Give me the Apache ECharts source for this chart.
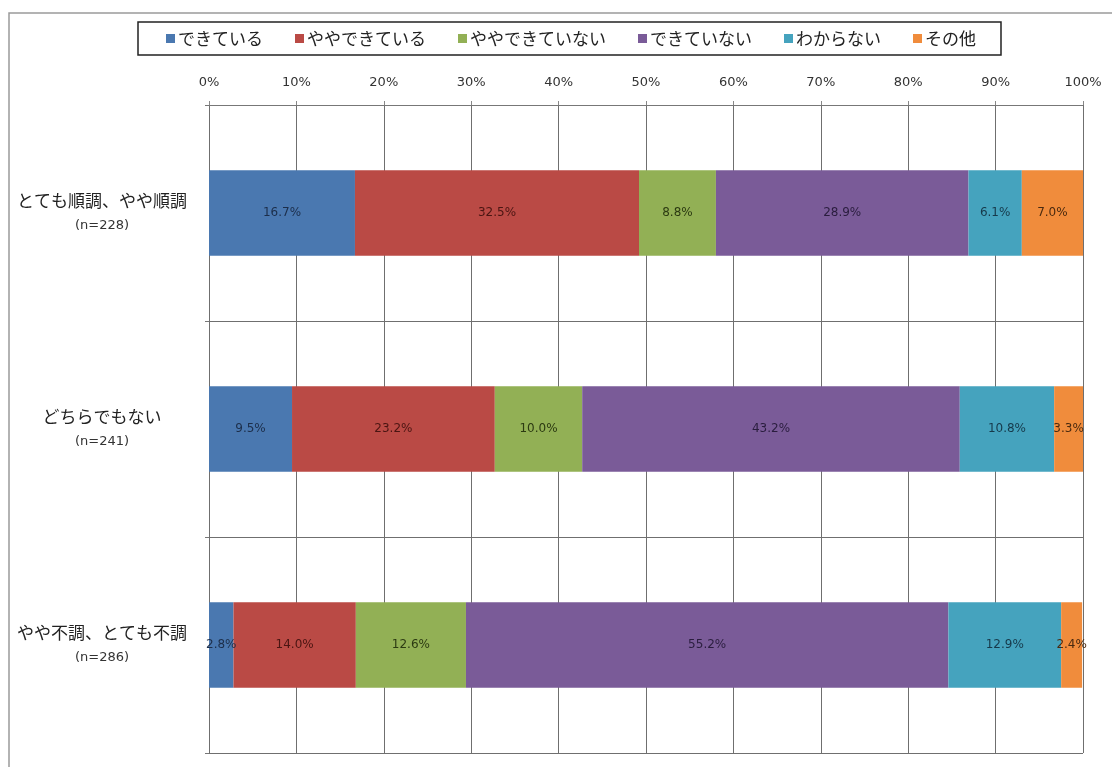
<!DOCTYPE html>
<html>
<head>
<meta charset="utf-8">
<script src="https://cdn.jsdelivr.net/npm/echarts@6/dist/echarts.min.js"></script>
<style>
  html, body { margin: 0; padding: 0; background: #fff; }
  #chart { width: 1112px; height: 767px; }
</style>
</head>
<body>
<div id="chart"></div>
<script>
// Survey groups (top to bottom) and their sample sizes
const categories = ['とても順調、やや順調', 'どちらでもない', 'やや不調、とても不調'];
const sampleSizes = [228, 241, 286];

// Share of answers per group, in percent
const seriesNames = ['できている', 'ややできている', 'ややできていない', 'できていない', 'わからない', 'その他'];
const dekiteiru       = [16.7, 9.5, 2.8];
const yayaDekiteiru   = [32.5, 23.2, 14.0];
const yayaDekiteinai  = [8.8, 10.0, 12.6];
const dekiteinai      = [28.9, 43.2, 55.2];
const wakaranai       = [6.1, 10.8, 12.9];
const sonota          = [7.0, 3.3, 2.4];

const axisTicks = [0, 10, 20, 30, 40, 50, 60, 70, 80, 90, 100];

const seriesValues = [dekiteiru, yayaDekiteiru, yayaDekiteinai, dekiteinai, wakaranai, sonota];
const barColors   = ['#4A78B0', '#BA4A45', '#92B055', '#7A5B98', '#45A3BE', '#F08C3C'];
const labelColors = ['#1c2e4a', '#4a1512', '#2c3a12', '#2a1d3e', '#16394a', '#4a2a10'];

const chart = echarts.init(document.getElementById('chart'));

chart.setOption({
  backgroundColor: '#fff',
  animation: false,
  graphic: [{
    type: 'rect',
    shape: { x: 9, y: 13, width: 1200, height: 800 },
    style: { fill: 'none', stroke: '#9a9a9a', lineWidth: 1.5 },
    silent: true
  }],
  legend: {
    left: 138,
    top: 22,
    padding: [8, 25, 8, 28],
    itemGap: 32,
    itemWidth: 9,
    itemHeight: 9,
    borderColor: '#222',
    borderWidth: 1.5,
    icon: 'rect',
    textStyle: {
      fontFamily: 'Noto Sans CJK JP',
      fontSize: 17,
      color: '#222',
      padding: [0, 0, 0, -2]
    },
    data: seriesNames
  },
  grid: {
    left: 209,
    right: 29,
    top: 105,
    bottom: 14,
    containLabel: false
  },
  xAxis: {
    type: 'value',
    position: 'top',
    min: 0,
    max: 100,
    interval: 10,
    axisLine: { show: true, lineStyle: { color: '#777', width: 1 } },
    axisTick: { show: true, length: 4, lineStyle: { color: '#888' } },
    splitLine: { show: true, lineStyle: { color: '#6f6f6f', width: 1 } },
    axisLabel: {
      margin: 16,
      fontFamily: 'DejaVu Sans',
      fontSize: 13,
      color: '#333',
      formatter: v => axisTicks.includes(v) ? v + '%' : ''
    }
  },
  yAxis: {
    type: 'category',
    inverse: true,
    data: categories,
    axisLine: { show: true, lineStyle: { color: '#6f6f6f', width: 1 } },
    axisTick: { show: true, length: 4, lineStyle: { color: '#777' } },
    splitLine: { show: true, lineStyle: { color: '#6f6f6f', width: 1 } },
    axisLabel: {
      margin: 14,
      formatter: (v, i) => '{a|' + v + '}\n{b|(n=' + sampleSizes[i] + ')}',
      rich: {
        a: { width: 186, align: 'center', fontFamily: 'Noto Sans CJK JP', fontSize: 17, color: '#222', lineHeight: 26 },
        b: { width: 186, align: 'center', fontFamily: 'DejaVu Sans', fontSize: 13, color: '#333', lineHeight: 24 }
      }
    }
  },
  series: seriesNames.map((name, k) => ({
    name: name,
    type: 'bar',
    stack: 'total',
    barWidth: '39.5%',
    data: seriesValues[k],
    itemStyle: { color: barColors[k] },
    label: {
      show: true,
      position: 'inside',
      fontFamily: 'DejaVu Sans',
      fontSize: 12,
      color: labelColors[k],
      formatter: p => p.value.toFixed(1) + '%'
    }
  }))
});
</script>
</body>
</html>
